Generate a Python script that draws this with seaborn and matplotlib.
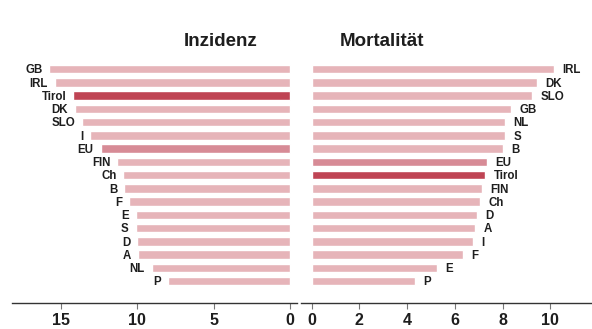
import matplotlib
matplotlib.use("Agg")
import matplotlib.pyplot as plt
import seaborn as sns
import pandas as pd

# Incidence per country (left panel), sorted descending
inz_countries = ["GB", "IRL", "Tirol", "DK", "SLO", "I", "EU", "FIN", "Ch",
                 "B", "F", "E", "S", "D", "A", "NL", "P"]
inz_values = [15.75, 15.4, 14.2, 14.1, 13.6, 13.1, 12.4, 11.3, 10.9,
              10.85, 10.55, 10.1, 10.1, 10.0, 9.95, 9.05, 8.0]

# Mortality per country (right panel), sorted descending
mort_countries = ["IRL", "DK", "SLO", "GB", "NL", "S", "B", "EU", "Tirol",
                  "FIN", "Ch", "D", "A", "I", "F", "E", "P"]
mort_values = [10.17, 9.45, 9.24, 8.36, 8.1, 8.1, 8.03, 7.34, 7.27,
               7.14, 7.06, 6.93, 6.85, 6.75, 6.33, 5.24, 4.34]

inz_ticks = [15, 10, 5, 0]
mort_ticks = [0, 2, 4, 6, 8, 10]

C_BASE = "#e6b4b9"
C_EU = "#d78b96"
C_TIROL = "#bf4454"
TEXT = "#1e1e1e"


def colour(name):
    return {"EU": C_EU, "Tirol": C_TIROL}.get(name, C_BASE)


sns.set_theme(style="white")
plt.rcParams["font.family"] = ["Liberation Sans", "DejaVu Sans"]

fig = plt.figure(figsize=(5.92, 3.29), dpi=100)
W, H = 592, 329
bottom = 1 - 303 / H
top = 1 - 55 / H
ax_l = fig.add_axes([12 / W, bottom, (297 - 12) / W, top - bottom])
ax_r = fig.add_axes([301 / W, bottom, (591 - 301) / W, top - bottom])

df_l = pd.DataFrame({"land": inz_countries, "wert": inz_values})
df_r = pd.DataFrame({"land": mort_countries, "wert": mort_values})

sns.barplot(data=df_l, x="wert", y="land", hue="land",
            palette=[colour(c) for c in inz_countries], legend=False,
            orient="h", width=0.64, ax=ax_l, saturation=1)
sns.barplot(data=df_r, x="wert", y="land", hue="land",
            palette=[colour(c) for c in mort_countries], legend=False,
            orient="h", width=0.64, ax=ax_r, saturation=1)

ylim = (17.66, -1.06)
ax_l.set_xlim(18.2, -0.46)
ax_r.set_xlim(-0.45, 11.71)

for ax, ticks in ((ax_l, inz_ticks), (ax_r, mort_ticks)):
    ax.set_ylim(*ylim)
    ax.set_xticks(ticks)
    ax.set_xticklabels([str(t) for t in ticks], fontsize=11.5,
                       fontweight="bold", color=TEXT)
    ax.set_yticks([])
    ax.set_xlabel("")
    ax.set_ylabel("")
    for s in ("left", "right", "top"):
        ax.spines[s].set_visible(False)
    ax.spines["bottom"].set_color("#333333")
    ax.spines["bottom"].set_linewidth(1.0)
    ax.tick_params(axis="x", bottom=True, length=4, width=0.8,
                   color="#777777", pad=3)
    ax.set_facecolor("none")

# Country labels at the bar ends
for i, (c, v) in enumerate(zip(inz_countries, inz_values)):
    ax_l.annotate(c, (v, i), xytext=(-5, -1), textcoords="offset points",
                  ha="right", va="center", fontsize=8.3, fontweight="bold",
                  color=TEXT)
for i, (c, v) in enumerate(zip(mort_countries, mort_values)):
    ax_r.annotate(c, (v, i), xytext=(6, -1), textcoords="offset points",
                  ha="left", va="center", fontsize=8.3, fontweight="bold",
                  color=TEXT)

fig.text(221 / W, 1 - 41 / H, "Inzidenz", ha="center", va="center",
         fontsize=13.5, fontweight="bold", color=TEXT)
fig.text(382 / W, 1 - 41 / H, "Mortalität", ha="center", va="center",
         fontsize=13.5, fontweight="bold", color=TEXT)

fig.savefig("out.png", dpi=100)
